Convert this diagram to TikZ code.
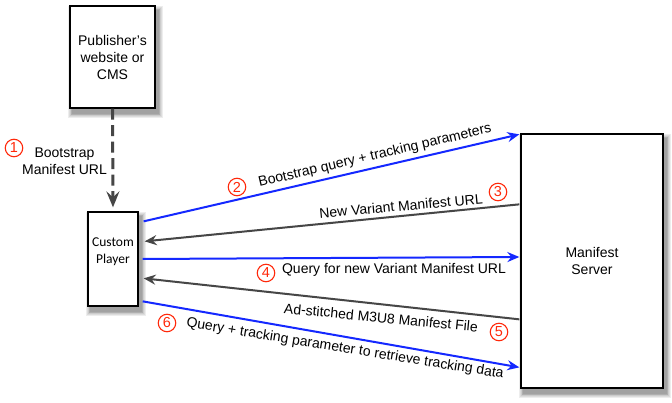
\documentclass[tikz,border=0pt]{standalone}
\usepackage{fontspec}
\setmainfont{Liberation Sans}
\newfontfamily\calibrifont{Carlito}
\usetikzlibrary{arrows.meta,calc,backgrounds}
\definecolor{arrblue}{RGB}{20,40,255}
\definecolor{arrgray}{RGB}{70,70,70}
\definecolor{numred}{RGB}{255,40,10}
\newcommand{\softshadow}[1]{%
  \foreach \r in {0,1,2,3,4,5}{%
    \fill[black, opacity=0.07]
      ($(#1.north west)+(3-\r*0.9,5-\r*0.9)$) rectangle ($(#1.south east)+(3+\r*0.9,5+\r*0.9)$);
  }}
\begin{document}
\begin{tikzpicture}[x=1pt,y=-1pt,
  box/.style={draw=black, line width=1.3pt, fill=white, inner sep=0pt},
  lbl/.style={font=\fontsize{14}{17}\selectfont, text=black, inner sep=0pt, align=center},
  num/.style={circle, draw=numred, line width=1.1pt, text=numred, minimum size=17.5pt, inner sep=0pt,
    font=\fontsize{14.5}{14.5}\selectfont},
  bluearr/.style={draw=arrblue, line width=2pt, -{Stealth[length=12pt,width=10pt,inset=4pt]}},
  grayarr/.style={draw=arrgray, line width=2pt, -{Stealth[length=12pt,width=10pt,inset=4pt]}},
  dasharr/.style={draw=arrgray, line width=3pt, dash pattern=on 11pt off 5.5pt,
    -{Stealth[length=16pt,width=13pt,inset=6pt]}}
]
\useasboundingbox (0,0) rectangle (672,403);

\node[box, minimum width=85pt, minimum height=102pt, lbl] (pub) at (112.5,57) {Publisher's\\website or\\CMS};
\node[box, minimum width=50pt, minimum height=94pt] (player) at (113,259) {};
\node[lbl, font=\calibrifont\fontsize{13.5}{17}\selectfont] (playertxt) at (113,252) {Custom\\Player};
\node[box, minimum width=142pt, minimum height=254pt, lbl] (server) at (592,261) {Manifest\\Server};

\begin{scope}[on background layer]
  \fill[white] (0,0) rectangle (672,403);
  \softshadow{pub}
  \softshadow{player}
  \softshadow{server}
\end{scope}

% connectors
\draw[dasharr] (pub.south) -- ($(player.north)+(0,-4)$);
\draw[bluearr] ($(player.north east)+(5,10)$) -- ($(server.north west)+(-1,1)$);
\draw[grayarr] ($(server.north west)+(-1,71)$) -- ($(player.north east)+(6,30)$);
\draw[bluearr] ($(player.east)+(4,0)$) -- ($(server.west)+(-1,-4)$);
\draw[grayarr] ($(server.north west)+(-1,186)$) -- ($(player.north east)+(5,67)$);
\draw[bluearr] ($(player.north east)+(4,90)$) -- ($(server.north west)+(-1,234)$);

% labels
\node[num] (n1) at (14,148) {1};
\node[lbl] (t1) at (64.5,161) {Bootstrap\\Manifest URL};
\node[num] (n2) at (237,187) {2};
\node[lbl, rotate=13.2] (t2) at (375,156) {Bootstrap query + tracking parameters};
\node[num] (n3) at (498,192) {3};
\node[lbl, rotate=5.3] (t3) at (401,206) {New Variant Manifest URL};
\node[num] (n4) at (266,273) {4};
\node[lbl] (t4) at (394,270) {Query for new Variant Manifest URL};
\node[num] (n5) at (499,332) {5};
\node[lbl, rotate=-5.5] (t5) at (381,317.5) {Ad-stitched M3U8 Manifest File};
\node[num] (n6) at (167,323) {6};
\node[lbl, rotate=-9.2] (t6) at (345,349) {Query + tracking parameter to retrieve tracking data};
\end{tikzpicture}
\end{document}
